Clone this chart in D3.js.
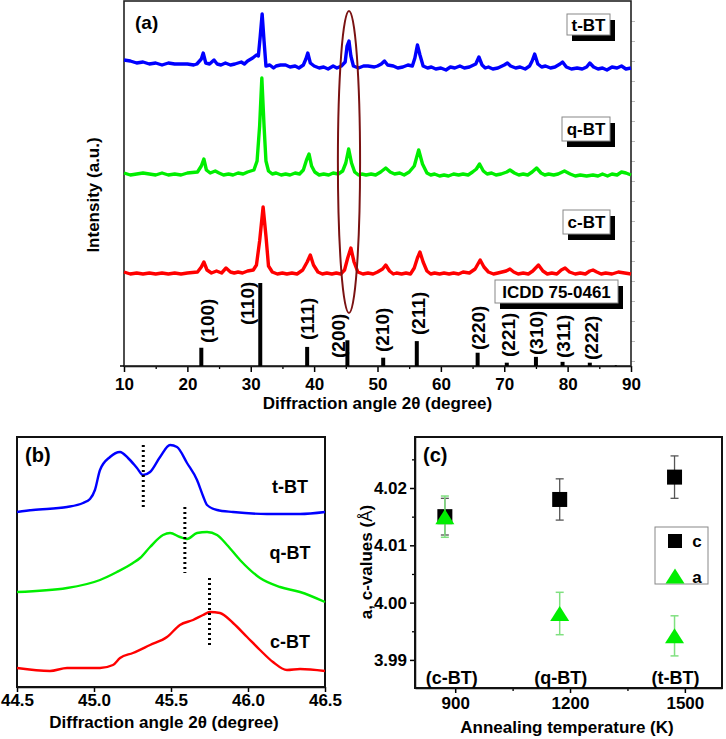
<!DOCTYPE html>
<html><head><meta charset="utf-8">
<script src="https://cdn.jsdelivr.net/npm/d3@7"></script>
<style>
body{margin:0;background:#fff}
svg text{font-family:"Liberation Sans",Arial,sans-serif;font-weight:bold;fill:#000}
</style>
</head><body>
<svg id="fig" width="726" height="739"></svg>
<script>
// ---------------- Panel (a) data: XRD patterns (2θ, intensity a.u.) ----------------
const xrdT = [[10,306],[11,305],[12,303],[13,304],[14,302],[15,303],[16,301],[17,303],[18,302],[19,302],[20,302],[21,301],[21.5,302],[22.2,307],[22.5,313],[22.9,303],[23.5,302],[24.2,306],[24.7,302],[25.3,301],[26,303],[26.8,301],[27.5,302],[28.5,304],[29,302],[29.5,305],[30.3,308],[30.9,311],[31.2,310],[31.5,330],[31.8,352],[32.1,325],[32.4,300],[33,301],[33.6,298],[34,300],[34.7,301],[35.5,301],[36.2,299],[37,300],[37.6,298],[38.3,301],[38.7,307],[39.0,313],[39.4,303],[40,300],[40.8,298],[41.5,299],[42.2,297],[43,300],[43.6,298],[44.3,300],[44.9,304],[45.2,320],[45.5,325],[45.8,310],[46.2,300],[47,298],[47.8,300],[48.5,300],[49.5,299],[50,300],[50.6,302],[51.1,305],[51.6,301],[52.5,300],[53.2,298],[54,299],[54.8,301],[55.5,300],[55.9,308],[56.3,321],[56.7,311],[57.2,300],[57.9,298],[58.5,299],[59.2,297],[60,298],[60.8,296],[61.5,299],[62.2,298],[63,300],[63.7,298],[64.5,299],[65.5,302],[66,309],[66.5,301],[67,298],[67.5,299],[68.2,297],[69,298],[70,301],[70.5,303],[71,300],[71.8,298],[72.5,299],[73.3,297],[74,300],[74.4,305],[74.8,312],[75.3,302],[75.9,299],[76.5,300],[77.3,298],[78,299],[78.8,302],[79.2,304],[79.8,299],[80.6,297],[81.5,298],[82.3,297],[83,299],[83.5,303],[84.1,299],[84.8,297],[85.5,298],[86.2,296],[87,299],[87.8,298],[88.5,300],[89.2,297],[90,298]];
const xrdQ = [[10,193],[11,191],[12,192],[13,193],[14,192],[15,191],[16,193],[17,191],[18,192],[19,191],[20,193],[21.6,194],[22.2,200],[22.6,207],[23,196],[23.6,193],[24.4,195],[25,193],[25.7,191],[26.5,192],[27.2,191],[28,193],[28.8,192],[29.5,194],[30.5,196],[31,205],[31.4,240],[31.75,288],[32.1,240],[32.4,205],[32.8,195],[33.4,192],[34,193],[34.8,191],[35.5,192],[36.2,191],[37,193],[37.7,192],[38.3,196],[38.8,206],[39.2,212],[39.6,200],[40.1,194],[40.8,191],[41.5,192],[42.3,191],[43,193],[43.8,192],[44.5,195],[45.0,203],[45.45,217],[45.9,203],[46.4,194],[47,191],[47.5,192],[48.2,191],[49,192],[49.7,191],[50.5,194],[51.3,198],[52,194],[52.7,192],[53.5,193],[54.2,191],[55,194],[55.8,200],[56.5,216],[57.1,202],[57.8,193],[58.4,191],[59,192],[59.8,190],[60.5,191],[61.2,190],[62,192],[62.8,191],[63.5,192],[64.3,191],[65,194],[65.6,197],[66.1,202],[66.7,195],[67.3,192],[68,193],[68.7,191],[69.5,192],[70.4,194],[70.9,196],[71.6,193],[72.3,191],[73,192],[73.7,191],[74.4,194],[75.1,198],[75.8,193],[76.4,191],[77,192],[77.8,191],[78.5,192],[79.5,195],[80.4,192],[81.2,190],[82,191],[83,190],[84,191],[84.8,190],[85.5,192],[86.3,190],[87,192],[87.8,191],[88.5,194],[89.2,193],[90,191]];
const xrdC = [[10,94],[11,92],[12,93],[13,92],[14,93],[15,92],[16,93],[17,92],[18,93],[19,92],[20,93],[21.6,94],[22.2,99],[22.6,104],[23.1,96],[23.8,93],[24.6,95],[25.4,93],[26.1,98],[26.8,94],[27.4,93],[28,94],[28.7,93],[29.5,95],[30.4,96],[30.9,101],[31.4,125],[31.95,159],[32.4,130],[32.8,100],[33.4,94],[34.2,92],[35,93],[35.7,92],[36.5,93],[37.3,92],[38.2,96],[38.9,104],[39.4,111],[39.9,101],[40.6,94],[41.3,92],[42,93],[42.8,92],[43.5,93],[44.2,92],[44.8,96],[45.3,108],[45.8,118],[46.3,104],[46.9,94],[47.7,92],[48.5,93],[49.3,92],[50,94],[50.8,97],[51.3,101],[51.9,95],[52.5,92],[53,93],[53.8,92],[54.5,93],[55.2,92],[55.8,98],[56.3,108],[56.7,114],[57.2,104],[57.8,95],[58.4,92],[59,93],[59.8,92],[60.5,93],[61.3,92],[62,93],[62.8,92],[63.5,94],[64.5,93],[65.4,97],[66.2,106],[66.8,99],[67.5,94],[68.3,92],[69,93],[70.3,95],[70.9,97],[71.5,94],[72.2,92],[73,93],[73.8,92],[74.5,95],[75.4,101],[76.1,95],[76.8,92],[77.5,93],[78.3,92],[79,96],[79.6,98],[80.3,94],[81.2,92],[82,93],[82.8,92],[83.5,95],[84,96],[84.6,94],[85.3,92],[86,93],[87,92],[88,94],[89,93],[90,92]];
const seriesNamesA = ["t-BT","q-BT","c-BT"];
const seriesColors = ["#0000ff","#00ee00","#ff0000"];
// ICDD 75-0461 reference lines
const icddAngles = [22.2,31.5,38.9,45.25,50.9,56.2,65.8,70.4,75.0,79.2,83.5,87.6];
const icddIntensity = [22,100,23,31,10,30,16,4,11,5,4,1];
const icddHkl = ["(100)","(110)","(111)","(200)","(210)","(211)","(220)","(221)","(310)","(311)","(222)",""];
const xTicksA = [10,20,30,40,50,60,70,80,90];

// ---------------- Panel (b) data: zoom of (200) peak ----------------
const zoomT = [[44.5,175],[44.604,177],[44.825,180],[44.929,184],[44.974,188],[45.006,197],[45.039,217],[45.104,230],[45.169,235],[45.221,229],[45.279,219],[45.318,212],[45.364,215],[45.429,230],[45.494,242],[45.539,240],[45.604,224],[45.669,207],[45.708,191],[45.734,182],[45.799,177],[45.903,175],[46.123,173],[46.338,173],[46.5,175]];
const zoomQ = [[44.5,95],[44.825,99],[45.039,107],[45.149,115],[45.253,124],[45.299,129],[45.364,140],[45.448,152],[45.494,154],[45.558,150],[45.604,148],[45.669,154],[45.734,155],[45.799,152],[45.864,142],[45.948,127],[46.078,109],[46.208,100],[46.338,95],[46.5,85]];
const zoomC = [[44.5,19],[44.714,16],[44.825,19],[45.039,19],[45.123,22],[45.169,29],[45.253,34],[45.364,42],[45.474,50],[45.558,62],[45.643,67],[45.708,72],[45.753,75],[45.818,74],[45.903,64],[45.994,50],[46.078,37],[46.162,25],[46.253,17],[46.338,18],[46.5,16]];
const peakCentres = [45.32,45.59,45.75];
const peakMarkerRange = [[177,242],[114,180],[42,109]];
const xTicksB = [44.5,45.0,45.5,46.0,46.5];

// ---------------- Panel (c) data: lattice parameters ----------------
const annealTemps = [873,1173,1473];
const phaseLabels = ["(c-BT)","(q-BT)","(t-BT)"];
const cValues = [4.0150,4.0180,4.0219];
const cErrors = [0.0032,0.0036,0.0037];
const aValues = [4.0150,3.9981,3.9942];
const aErrors = [0.0036,0.0037,0.0035];
const xTicksC = [900,1200,1500];
const yTicksC = [3.99,4.00,4.01,4.02];

// =====================================================================
const svg = d3.select("#fig");
const F = 17;

function styleAxis(g, color) {
  g.selectAll("path").attr("stroke", color || "#000").attr("stroke-width", 1.5);
  g.selectAll("line").attr("stroke", color || "#000").attr("stroke-width", 1.5);
  g.selectAll("text").attr("font-size", F).attr("font-family", '"Liberation Sans",Arial,sans-serif').attr("font-weight", "bold").attr("fill", "#000");
}

// ---------------- Panel (a) ----------------
const xA = d3.scaleLinear().domain([10,90]).range([124,631]);
const yA = d3.scaleLinear().domain([0,365]).range([366,1]);
const yStick = d3.scaleLinear().domain([0,100]).range([366,283]);
const gA = svg.append("g");

const gRA = gA.append("g").attr("transform", `translate(${xA(90)},0)`)
  .call(d3.axisRight(yA).tickValues(d3.range(5, 365, 20)).tickSize(4).tickFormat(""));
gRA.selectAll("path").remove();
gRA.selectAll("line").attr("stroke", "#bbb").attr("stroke-width", 1);

const gMinA = gA.append("g").attr("transform", `translate(0,${yA(0)})`)
  .call(d3.axisBottom(xA).tickValues(d3.range(15, 90, 10)).tickSize(3).tickFormat(""));
gMinA.selectAll("path").remove();
gMinA.selectAll("line").attr("stroke", "#000").attr("stroke-width", 1.3);

const gxA = gA.append("g").attr("transform", `translate(0,${yA(0)})`)
  .call(d3.axisBottom(xA).tickValues(xTicksA).tickSize(6).tickPadding(6).tickSizeOuter(0));
styleAxis(gxA);

gA.append("rect").attr("x", xA(10)).attr("y", yA(365)).attr("width", xA(90) - xA(10)).attr("height", yA(0) - yA(365))
  .attr("fill", "none").attr("stroke", "#222").attr("stroke-width", 1.6);
gA.append("line").attr("x1", xA(10) - 4).attr("x2", xA(10)).attr("y1", yA(0)).attr("y2", yA(0)).attr("stroke", "#000").attr("stroke-width", 1.5);

icddAngles.forEach((a, i) => {
  gA.append("line").attr("x1", xA(a)).attr("x2", xA(a)).attr("y1", yStick(0)).attr("y2", yStick(icddIntensity[i]))
    .attr("stroke", "#000").attr("stroke-width", i === 11 ? 2 : 4);
});
const labelDx = [6,-13,0,-9,-1,1,1,1,0,1,1,0];
const labelBottom = [343,325,340,358,352,335,350,357,355,358,360,0];
icddHkl.forEach((t, i) => {
  if (!t) return;
  gA.append("text").attr("transform", `translate(${xA(icddAngles[i]) + labelDx[i]},${labelBottom[i]}) rotate(-90)`)
    .attr("dy", "0.36em").attr("font-size", 19).text(t);
});

const lineA = d3.line().x(d => xA(d[0])).y(d => yA(d[1]));
[xrdT, xrdQ, xrdC].forEach((s, i) => {
  gA.append("path").datum(s).attr("d", lineA).attr("fill", "none")
    .attr("stroke", seriesColors[i]).attr("stroke-width", 3.4).attr("stroke-linejoin", "round");
});

gA.append("ellipse").attr("cx", xA(45.5)).attr("cy", (yA(355) + yA(53)) / 2)
  .attr("rx", xA(45.5 + 1.75) - xA(45.5)).attr("ry", (yA(53) - yA(355)) / 2)
  .attr("fill", "none").attr("stroke", "#7a1212").attr("stroke-width", 2);

function shadowBox(g, x, y, w, h, txt, fs) {
  g.append("rect").attr("x", x + 5).attr("y", y + 6).attr("width", w).attr("height", h).attr("fill", "#000");
  g.append("rect").attr("x", x).attr("y", y).attr("width", w).attr("height", h).attr("fill", "#fff").attr("stroke", "#888").attr("stroke-width", 1);
  g.append("text").attr("x", x + w / 2).attr("y", y + h / 2).attr("dy", "0.36em").attr("text-anchor", "middle").attr("font-size", fs).text(txt);
}
shadowBox(gA, 567, 14, 43, 21, seriesNamesA[0], 17);
shadowBox(gA, 562, 117, 48, 24, seriesNamesA[1], 17);
shadowBox(gA, 563, 210, 47, 24, seriesNamesA[2], 17);
shadowBox(gA, 495, 280, 123, 23, "ICDD 75-0461", 17);

gA.append("text").attr("x", 135).attr("y", 29).attr("font-size", 19).text("(a)");
gA.append("text").attr("transform", "translate(93,195) rotate(-90)").attr("text-anchor", "middle").attr("dy", "0.36em")
  .attr("font-size", F).text("Intensity (a.u.)");
gA.append("text").attr("x", (xA(10) + xA(90)) / 2).attr("y", 409).attr("text-anchor", "middle").attr("font-size", F)
  .text("Diffraction angle 2θ (degree)");

// ---------------- Panel (b) ----------------
const xB = d3.scaleLinear().domain([44.5,46.5]).range([17,325]);
const yB = d3.scaleLinear().domain([0,250]).range([687,437]);
const gB = svg.append("g");
const gxB = gB.append("g").attr("transform", `translate(0,${yB(0)})`)
  .call(d3.axisBottom(xB).tickValues(xTicksB).tickFormat(d3.format(".1f")).tickSize(5).tickPadding(2).tickSizeOuter(0));
styleAxis(gxB);
gB.append("rect").attr("x", xB(44.5)).attr("y", yB(250)).attr("width", xB(46.5) - xB(44.5)).attr("height", yB(0) - yB(250))
  .attr("fill", "none").attr("stroke", "#111").attr("stroke-width", 2);
const lineB = d3.line().x(d => xB(d[0])).y(d => yB(d[1])).curve(d3.curveMonotoneX);
[zoomT, zoomQ, zoomC].forEach((s, i) => {
  gB.append("path").datum(s).attr("d", lineB).attr("fill", "none").attr("stroke", seriesColors[i]).attr("stroke-width", 2.4);
});
peakCentres.forEach((p, i) => {
  gB.append("line").attr("x1", xB(p)).attr("x2", xB(p)).attr("y1", yB(peakMarkerRange[i][1])).attr("y2", yB(peakMarkerRange[i][0]))
    .attr("stroke", "#000").attr("stroke-width", 3).attr("stroke-dasharray", "2,3");
});
gB.append("text").attr("x", 25).attr("y", 462).attr("font-size", 20).text("(b)");
[["t-BT",487],["q-BT",553],["c-BT",642]].forEach(([t, y]) => {
  gB.append("text").attr("x", 290).attr("y", y).attr("dy", "0.36em").attr("text-anchor", "middle").attr("font-size", 18).text(t);
});
gB.append("text").attr("x", 164).attr("y", 728).attr("text-anchor", "middle").attr("font-size", F).text("Diffraction angle 2θ (degree)");

// ---------------- Panel (c) ----------------
const xC = d3.scaleLinear().domain([795,1597]).range([415,722]);
const yC = d3.scaleLinear().domain([3.9851,4.0289]).range([688,437]);
const gC = svg.append("g");
const gyCm = gC.append("g").attr("transform", `translate(${xC(795)},0)`)
  .call(d3.axisLeft(yC).tickValues([3.995,4.005,4.015,4.025]).tickSize(3).tickFormat(""));
gyCm.selectAll("path").remove();
gyCm.selectAll("line").attr("stroke", "#000").attr("stroke-width", 1.3);
const gyC = gC.append("g").attr("transform", `translate(${xC(795)},0)`)
  .call(d3.axisLeft(yC).tickValues(yTicksC).tickFormat(d3.format(".2f")).tickSize(5).tickPadding(3).tickSizeOuter(0));
styleAxis(gyC);
const gxCm = gC.append("g").attr("transform", `translate(0,${yC(3.9851)})`)
  .call(d3.axisBottom(xC).tickValues([1050,1350]).tickSize(3).tickFormat(""));
gxCm.selectAll("path").remove();
gxCm.selectAll("line").attr("stroke", "#000").attr("stroke-width", 1.3);
const gxC = gC.append("g").attr("transform", `translate(0,${yC(3.9851)})`)
  .call(d3.axisBottom(xC).tickValues(xTicksC).tickFormat(d3.format("d")).tickSize(5).tickPadding(4).tickSizeOuter(0));
styleAxis(gxC);
gC.append("rect").attr("x", xC(795)).attr("y", yC(4.0289)).attr("width", xC(1597) - xC(795)).attr("height", yC(3.9851) - yC(4.0289))
  .attr("fill", "none").attr("stroke", "#111").attr("stroke-width", 2);

function errBar(g, x, v, e, color, w) {
  g.append("line").attr("x1", x).attr("x2", x).attr("y1", yC(v - e)).attr("y2", yC(v + e)).attr("stroke", color).attr("stroke-width", w);
  [v - e, v + e].forEach(val => g.append("line").attr("x1", x - 4).attr("x2", x + 4).attr("y1", yC(val)).attr("y2", yC(val)).attr("stroke", color).attr("stroke-width", w));
}
const triPath = (cx, cy, w, h) => `M${cx - w / 2},${cy + h / 2}L${cx + w / 2},${cy + h / 2}L${cx},${cy - h / 2}Z`;

annealTemps.forEach((t, i) => {
  errBar(gC, xC(t), cValues[i], cErrors[i], "#555", 1.3);
  gC.append("rect").attr("x", xC(t) - 7.5).attr("y", yC(cValues[i]) - 7.5).attr("width", 15).attr("height", 15).attr("fill", "#000");
});
annealTemps.forEach((t, i) => {
  errBar(gC, xC(t), aValues[i], aErrors[i], "#80e080", 1.5);
  gC.append("path").attr("d", triPath(xC(t), yC(aValues[i]), 19, 15)).attr("fill", "#00ee00");
});
phaseLabels.forEach((l, i) => {
  gC.append("text").attr("x", xC(annealTemps[i]) + (i === 0 ? 7 : 1)).attr("y", 684).attr("text-anchor", "middle").attr("font-size", 18).text(l);
});
gC.append("rect").attr("x", 655).attr("y", 527).attr("width", 53).attr("height", 57).attr("fill", "#fff").attr("stroke", "#888").attr("stroke-width", 1);
gC.append("rect").attr("x", 668).attr("y", 534).attr("width", 14).attr("height", 14).attr("fill", "#000");
gC.append("text").attr("x", 697).attr("y", 541).attr("dy", "0.36em").attr("text-anchor", "middle").attr("font-size", F).text("c");
gC.append("path").attr("d", triPath(675, 576, 19, 15)).attr("fill", "#00ee00");
gC.append("text").attr("x", 697).attr("y", 577).attr("dy", "0.36em").attr("text-anchor", "middle").attr("font-size", F).text("a");

gC.append("text").attr("x", 423).attr("y", 462).attr("font-size", 20).text("(c)");
const yl = gC.append("text").attr("transform", "translate(366,562) rotate(-90)").attr("text-anchor", "middle").attr("dy", "0.36em").attr("font-size", 17);
yl.append("tspan").text("a, c-values (");
yl.append("tspan").attr("font-weight", "normal").text("Å");
yl.append("tspan").text(")");
gC.append("text").attr("x", 567).attr("y", 733).attr("text-anchor", "middle").attr("font-size", F).text("Annealing temperature (K)");
</script>
</body></html>
